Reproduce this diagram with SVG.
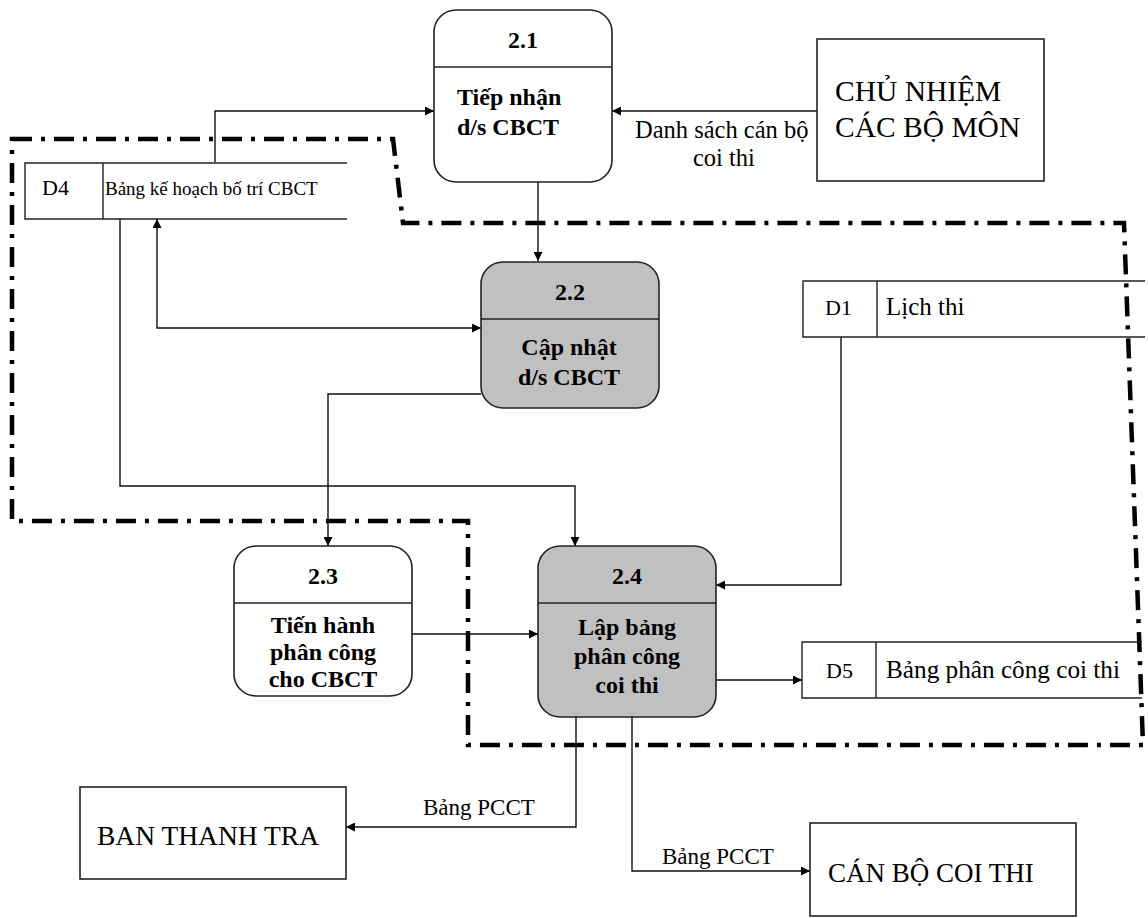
<svg xmlns="http://www.w3.org/2000/svg" width="1148" height="918" viewBox="0 0 1148 918">
  <defs>
    <marker id="arrow" viewBox="0 0 10 10" refX="10" refY="5" markerWidth="12" markerHeight="9" markerUnits="userSpaceOnUse" orient="auto-start-reverse">
      <path d="M0,0 L10,5 L0,10 Z" fill="#000"/>
    </marker>
    <style>
      .proc { fill: #fff; stroke: #222; stroke-width: 1.6; }
      .proc.shade { fill: #c0c0c0; }
      .sep { stroke: #222; stroke-width: 1.6; }
      .ent { fill: #fff; stroke: #222; stroke-width: 1.6; }
      .store { fill: none; stroke: #222; stroke-width: 1.4; }
      .conn { fill: none; stroke: #111; stroke-width: 1.4; marker-end: url(#arrow); }
      .bound { fill: none; stroke: #000; stroke-width: 4.5; stroke-dasharray: 20 9 4 9; }
      text { font-family: "Liberation Serif", "Times New Roman", serif; fill: #000; }
      .pid { font-size: 24px; font-weight: bold; text-anchor: middle; }
      .pname { font-size: 24px; font-weight: bold; text-anchor: middle; }
      .lbl { font-size: 23px; }
      .ename { font-size: 27.5px; }
      .sid { font-size: 22px; }
      .sname { font-size: 25px; }
    </style>
  </defs>

  <!-- subsystem boundary -->
  <path id="boundary" class="bound" d="M12,139 H393 L403,223 H1124 L1143,745 H468 V521 H12 Z"/>

  <!-- data flows -->
  <g id="connectors">
    <path class="conn" d="M215,162 V111 H434"/>
    <path class="conn" d="M817,111 H612"/>
    <path class="conn" d="M538,182 V261"/>
    <path class="conn" d="M481,328 H157 V219" style="marker-start:url(#arrow)"/>
    <path class="conn" d="M481,394 H328 V546"/>
    <path class="conn" d="M120,219 V486 H575 V546"/>
    <path class="conn" d="M841,337 V585 H716"/>
    <path class="conn" d="M412,634 H538"/>
    <path class="conn" d="M716,680 H802"/>
    <path class="conn" d="M576,717 V827 H346"/>
    <path class="conn" d="M632,717 V871 H810"/>
    <text class="lbl" x="635" y="138" style="font-size:24.5px">Danh sách cán bộ</text>
    <text class="lbl" x="693" y="166" style="font-size:24.5px">coi thi</text>
    <text class="lbl" x="423" y="815">Bảng PCCT</text>
    <text class="lbl" x="662" y="864">Bảng PCCT</text>
  </g>

  <!-- process 2.1 -->
  <g id="p21">
    <rect class="proc" x="434" y="10" width="178" height="172" rx="22"/>
    <line class="sep" x1="434" y1="67" x2="612" y2="67"/>
    <text class="pid" x="523" y="48">2.1</text>
    <text class="pname" x="457" y="105" style="text-anchor:start">Tiếp nhận</text>
    <text class="pname" x="457" y="135" style="text-anchor:start">d/s CBCT</text>
  </g>

  <!-- process 2.2 -->
  <g id="p22">
    <rect class="proc shade" x="481" y="262" width="178" height="146" rx="22"/>
    <line class="sep" x1="481" y1="319" x2="659" y2="319"/>
    <text class="pid" x="570" y="300">2.2</text>
    <text class="pname" x="569" y="355">Cập nhật</text>
    <text class="pname" x="569" y="385">d/s CBCT</text>
  </g>

  <!-- process 2.3 -->
  <g id="p23">
    <rect class="proc" x="234" y="546" width="178" height="150" rx="22"/>
    <line class="sep" x1="234" y1="603" x2="412" y2="603"/>
    <text class="pid" x="323" y="584">2.3</text>
    <text class="pname" x="323" y="633">Tiến hành</text>
    <text class="pname" x="323" y="660">phân công</text>
    <text class="pname" x="323" y="687">cho CBCT</text>
  </g>

  <!-- process 2.4 -->
  <g id="p24">
    <rect class="proc shade" x="538" y="546" width="178" height="171" rx="22"/>
    <line class="sep" x1="538" y1="603" x2="716" y2="603"/>
    <text class="pid" x="627" y="584">2.4</text>
    <text class="pname" x="627" y="635">Lập bảng</text>
    <text class="pname" x="627" y="664">phân công</text>
    <text class="pname" x="627" y="693">coi thi</text>
  </g>

  <!-- external entities -->
  <g id="e-chunhiem">
    <rect class="ent" x="817" y="39" width="227" height="142"/>
    <text class="ename" x="835" y="101" style="font-size:29.5px">CHỦ NHIỆM</text>
    <text class="ename" x="835" y="137" style="font-size:29.5px">CÁC BỘ MÔN</text>
  </g>
  <g id="e-banthanhtra">
    <rect class="ent" x="80" y="787" width="266" height="92"/>
    <text class="ename" x="97" y="845">BAN THANH TRA</text>
  </g>
  <g id="e-canbocoithi">
    <rect class="ent" x="810" y="823" width="266" height="93"/>
    <text class="ename" x="828" y="882" style="font-size:27px">CÁN BỘ COI THI</text>
  </g>

  <!-- data stores -->
  <g id="d4">
    <path class="store" d="M347,163 H25 V219 H347 M103,163 V219"/>
    <text class="sid" x="42" y="195">D4</text>
    <text class="sname" x="105" y="195" style="font-size:19px">Bảng kế hoạch bố trí CBCT</text>
  </g>
  <g id="d1">
    <path class="store" d="M1145,281 H803 V337 H1145 M877,281 V337"/>
    <text class="sid" x="825" y="315">D1</text>
    <text class="sname" x="886" y="315">Lịch thi</text>
  </g>
  <g id="d5">
    <path class="store" d="M1142,642 H802 V698 H1142 M876,642 V698"/>
    <text class="sid" x="826" y="678">D5</text>
    <text class="sname" x="886" y="678" textLength="234" lengthAdjust="spacingAndGlyphs">Bảng phân công coi thi</text>
  </g>
</svg>
